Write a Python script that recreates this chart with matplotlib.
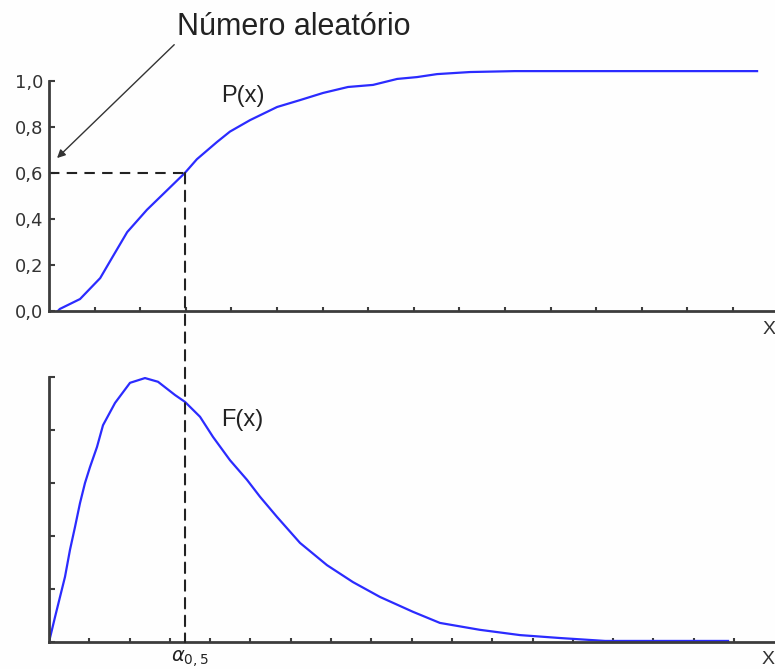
import matplotlib
matplotlib.use("Agg")
import matplotlib.pyplot as plt
from matplotlib.patches import ConnectionPatch

# ---- data ----
p_x = [0.22, 0.27, 0.77, 1.27, 1.56, 1.94, 2.43, 2.93, 3.37, 3.67, 4.17, 4.49,
       4.99, 5.66, 6.23, 6.80, 7.42, 8.04, 8.64, 9.13, 9.63, 10.45, 11.56, 17.57]
p_y = [0.0, 0.009, 0.052, 0.143, 0.230, 0.343, 0.440, 0.525, 0.600, 0.660, 0.735, 0.780,
       0.830, 0.887, 0.917, 0.948, 0.974, 0.983, 1.009, 1.017, 1.030, 1.039, 1.043, 1.043]

f_x = [0.0, 0.149, 0.273, 0.397, 0.521, 0.645, 0.769, 0.893, 1.017, 1.191, 1.340,
       1.638, 2.010, 2.382, 2.705, 3.127, 3.375, 3.747, 4.069, 4.491, 4.913, 5.236,
       5.658, 6.228, 6.898, 7.543, 8.213, 9.03, 9.70, 10.69, 11.69, 12.68, 13.80, 16.85]
f_y = [0.0, 0.47, 0.85, 1.23, 1.74, 2.17, 2.62, 3.00, 3.30, 3.68, 4.09,
       4.51, 4.89, 4.98, 4.91, 4.66, 4.53, 4.25, 3.87, 3.43, 3.06, 2.74,
       2.36, 1.87, 1.45, 1.13, 0.85, 0.57, 0.36, 0.23, 0.13, 0.075, 0.02, 0.02]

alpha_x = 3.375
random_number = 0.6

p_ticks = [0.0, 0.2, 0.4, 0.6, 0.8, 1.0]
p_tick_labels = ["0,0", "0,2", "0,4", "0,6", "0,8", "1,0"]
top_xticks = [1.1315 * k for k in range(1, 16)]
bot_xticks = [k for k in range(1, 18)]
bot_yticks = [0, 1, 2, 3, 4, 5]

blue = "#2b2bff"
axis_col = "#3c3c3c"

fig = plt.figure(figsize=(7.75, 6.69), dpi=100)
fig.patch.set_facecolor("#fefefe")

W, H = 775.0, 669.0
ax1 = fig.add_axes([49 / W, (H - 311) / H, (775 - 49) / W, 241.5 / H])
ax2 = fig.add_axes([49 / W, (H - 642) / H, (775 - 49) / W, 265 / H])

xmax = (775 - 49) / 40.3

for ax in (ax1, ax2):
    ax.set_facecolor("none")
    for s in ("top", "right"):
        ax.spines[s].set_visible(False)
    for s in ("left", "bottom"):
        ax.spines[s].set_color(axis_col)
        ax.spines[s].set_linewidth(2)
    ax.set_xlim(0, xmax)
    ax.tick_params(axis="both", direction="in", color=axis_col, width=1.5, length=3)

# top: P(x)
ax1.plot(p_x, p_y, color=blue, lw=1.6, solid_joinstyle="round")
ax1.set_ylim(0, 1.05)
ax1.spines["left"].set_bounds(0, 1.0)
ax1.set_yticks(p_ticks)
ax1.set_yticklabels(p_tick_labels, family="DejaVu Sans", fontsize=13, color="#333333")
ax1.tick_params(axis="y", pad=4, length=4)
ax1.set_xticks(top_xticks)
ax1.set_xticklabels([])
ax1.text(4.81, 0.935, "P(x)", family="Liberation Sans", fontsize=17,
         ha="center", va="center", color="#222222")

# bottom: F(x)
ax2.plot(f_x, f_y, color=blue, lw=1.6, solid_joinstyle="round")
ax2.set_ylim(0, 5)
ax2.set_yticks(bot_yticks)
ax2.set_yticklabels([])
ax2.set_xticks(bot_xticks)
ax2.set_xticklabels([])
ax2.tick_params(axis="y", length=4)
ax2.text(4.79, 4.19, "F(x)", family="Liberation Sans", fontsize=17,
         ha="center", va="center", color="#222222")

# dashed guide lines
ax1.plot([0, alpha_x], [random_number, random_number], color="#222222",
         lw=1.5, ls=(0, (5, 3.5)))
con = ConnectionPatch(xyA=(alpha_x, random_number), coordsA=ax1.transData,
                      xyB=(alpha_x, 0), coordsB=ax2.transData,
                      color="#222222", lw=1.5, ls=(0, (5, 3.5)))
fig.add_artist(con)

# alpha label
ax2.annotate(r"$\alpha_{0,5}$", xy=(alpha_x, 0), xytext=(-14, -6),
             textcoords="offset pixels", ha="left", va="top", fontsize=14,
             color="#222222", annotation_clip=False)

# annotation arrow
ax1.annotate("Número aleatório", xy=(0.2, 0.665), xycoords="data",
             xytext=(177, H - 42), textcoords="figure pixels",
             family="Liberation Sans", fontsize=22, color="#222222",
             ha="left", va="bottom", annotation_clip=False,
             arrowprops=dict(arrowstyle="-|>", color="#333333", lw=1.0,
                             mutation_scale=12, shrinkA=0, shrinkB=0,
                             relpos=(0.0, 0.0)))

# axis names "X" at right edges
fig.text(763 / W, (H - 330) / H, "X", family="Liberation Sans", fontsize=14,
         ha="left", va="center", color="#333333")
fig.text(762 / W, (H - 659) / H, "X", family="Liberation Sans", fontsize=14,
         ha="left", va="center", color="#333333")

fig.savefig("out.png", dpi=100, facecolor=fig.get_facecolor())
